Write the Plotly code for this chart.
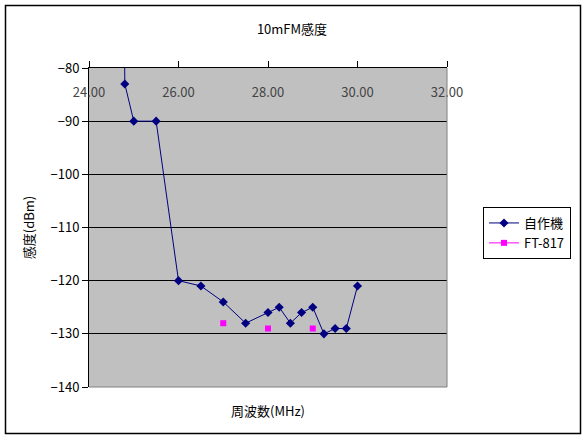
import plotly.graph_objects as go

title_text = "10mFM感度"
x_title = "周波数(MHz)"
y_title = "感度(dBm)"

freq = [24.79, 24.8, 25.0, 25.5, 26.0, 26.5, 27.0, 27.5, 28.0, 28.25, 28.5, 28.75, 29.0, 29.25, 29.5, 29.75, 30.0]
jisaku = [-70, -83, -90, -90, -120, -121, -124, -128, -126, -125, -128, -126, -125, -130, -129, -129, -121]
ft817 = [None, None, None, None, None, None, -128, None, -129, None, None, None, -129, None, None, None, None]

series_names = ["自作機", "FT-817"]

FONT = "MS PGothic, Noto Sans CJK JP, sans-serif"

fig = go.Figure()
fig.add_trace(go.Scatter(
    x=freq, y=jisaku, name=series_names[0], mode="lines+markers",
    line=dict(color="#000080", width=1),
    marker=dict(symbol="diamond", size=7, color="#000080"),
))
fig.add_trace(go.Scatter(
    x=freq, y=ft817, name=series_names[1], mode="lines+markers",
    connectgaps=False,
    line=dict(color="#ff00ff", width=1),
    marker=dict(symbol="square", size=6, color="#ff00ff"),
))

W, H = 586, 439
L, R, T, B = 89, 447, 68, 387
pw, ph = R - L, B - T

def px(x):
    return (x - L) / pw

def py(y):
    return (B - y) / ph

fig.update_layout(
    width=W, height=H,
    margin=dict(l=L, r=W - R, t=T, b=H - B, pad=0),
    paper_bgcolor="white",
    plot_bgcolor="#c0c0c0",
    font=dict(family=FONT, size=12, color="black"),
    title=dict(text=title_text, xref="container", x=292 / W, xanchor="center",
               yref="container", y=1 - 29 / H, yanchor="middle",
               font=dict(size=13, family=FONT)),
    showlegend=True,
    legend=dict(x=px(483), y=py(207), xanchor="left", yanchor="top",
                bordercolor="black", borderwidth=1, bgcolor="white",
                font=dict(size=13, family=FONT), tracegroupgap=0,
                itemwidth=30),
    xaxis=dict(
        range=[24, 32], dtick=2, tick0=24, tickformat=".2f",
        side="top", showline=True, linecolor="black", linewidth=1,
        ticks="outside", ticklen=6, tickcolor="black",
        ticklabelposition="inside", ticklabelstandoff=20,
        ticklabeloverflow="allow",
        showgrid=False, zeroline=False, fixedrange=True,
        tickfont=dict(size=13, family=FONT),
    ),
    yaxis=dict(
        range=[-140, -80], dtick=10, tick0=-140,
        showline=True, linecolor="black", linewidth=1,
        ticks="outside", ticklen=6, tickcolor="black",
        ticklabeloverflow="allow",
        showgrid=True, gridcolor="black", gridwidth=1,
        zeroline=False, fixedrange=True,
        title=dict(text=y_title, standoff=12, font=dict(size=13, family=FONT)),
        tickfont=dict(size=13, family=FONT),
    ),
    shapes=[
        dict(type="line", xref="paper", yref="paper", x0=1, x1=1, y0=0, y1=1,
             line=dict(color="#808080", width=1), layer="above"),
        dict(type="line", xref="paper", yref="paper", x0=0, x1=1, y0=0, y1=0,
             line=dict(color="#808080", width=1), layer="above"),
        dict(type="rect", xref="paper", yref="paper",
             x0=px(5.5), x1=px(580.5), y0=py(433.5), y1=py(5.5),
             line=dict(color="black", width=1.5), fillcolor="rgba(0,0,0,0)"),
    ],
    annotations=[
        dict(text=x_title, xref="paper", yref="paper", x=0.5, y=py(410),
             xanchor="center", yanchor="middle", showarrow=False,
             font=dict(size=13, family=FONT)),
    ],
)

fig.write_html("out.html", config={"displayModeBar": False},
               post_script="document.body.style.margin='0';document.body.style.overflow='hidden';")
